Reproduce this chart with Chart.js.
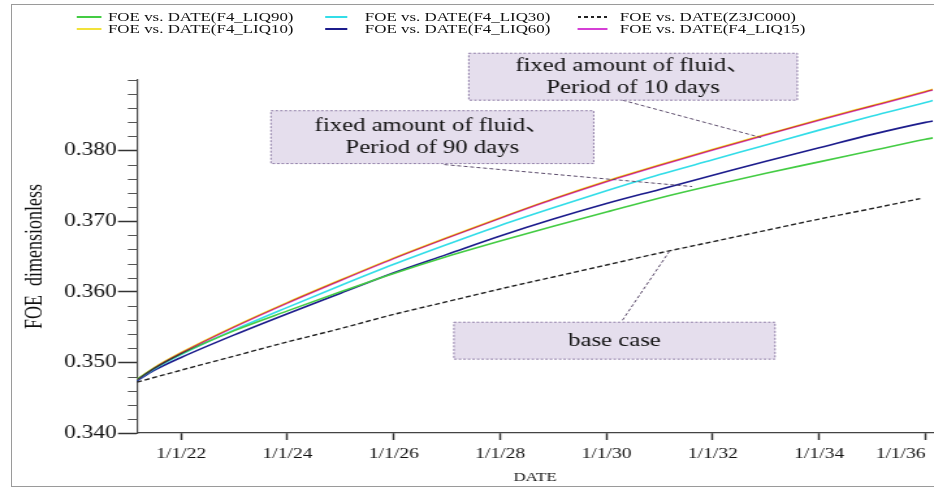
<!DOCTYPE html>
<html>
<head>
<meta charset="utf-8">
<script src="https://cdn.jsdelivr.net/npm/chart.js@4/dist/chart.umd.min.js"></script>
<style>
  body { margin: 0; background: #fff; overflow: hidden; }
  #frame { position: absolute; left: 11px; top: 4px; width: 1000px; height: 481px; border: 1.5px solid #9a9a9a; }
  #wrap { position: absolute; left: 0; top: 0; width: 718px; height: 488px; transform: scaleX(1.3008); transform-origin: 0 0; }
  #box { position: absolute; left: 0; top: 0; width: 718px; height: 488px; }
  .item { position: absolute; height: 14px; font: 13px "Liberation Serif", serif; color: #111; line-height: 14px; white-space: nowrap; }
  .sw { position: absolute; height: 2.5px; }
</style>
</head>
<body>
<div id="frame"></div>
<div id="wrap">
  <div id="legend"></div>
  <div id="box"><canvas id="chart"></canvas></div>
</div>
<script>
// años (21.17 = principios de 2021 ... 36.14 = principios de 2036)
const years = [21.17, 21.5, 22, 23, 24, 25, 26, 27, 28, 29, 30, 31, 32, 33, 34, 35, 36, 36.14];
const liq90 = [0.3476, 0.3492, 0.3512, 0.3545, 0.3573, 0.3600, 0.3626, 0.3650, 0.3672, 0.3693, 0.3713, 0.3733, 0.3751, 0.3768, 0.3784, 0.3800, 0.3816, 0.3818];
const liq10 = [0.3476, 0.3493, 0.3514, 0.3551, 0.3585, 0.3617, 0.3648, 0.3677, 0.3705, 0.3732, 0.3757, 0.3780, 0.3802, 0.3823, 0.3844, 0.3864, 0.3884, 0.3887];
const liq30 = [0.3475, 0.3491, 0.3511, 0.3546, 0.3578, 0.3609, 0.3639, 0.3667, 0.3694, 0.3719, 0.3743, 0.3766, 0.3787, 0.3808, 0.3829, 0.3849, 0.3868, 0.3871];
const liq60 = [0.3474, 0.3489, 0.3507, 0.3539, 0.3569, 0.3598, 0.3627, 0.3653, 0.3679, 0.3703, 0.3725, 0.3745, 0.3765, 0.3785, 0.3804, 0.3823, 0.3840, 0.3842];
const liq15 = [0.3475, 0.3492, 0.3513, 0.3550, 0.3584, 0.3616, 0.3647, 0.3676, 0.3704, 0.3731, 0.3756, 0.3779, 0.3801, 0.3822, 0.3843, 0.3863, 0.3883, 0.3886];
const baseYears = [21.17, 22, 23, 24, 25, 26, 27, 28, 29, 30, 31, 32, 33, 34, 35, 35.9];
const baseCase = [0.3472, 0.3489, 0.3509, 0.3529, 0.3548, 0.3568, 0.3586, 0.3604, 0.3621, 0.3638, 0.3655, 0.3671, 0.3687, 0.3703, 0.3718, 0.3732];

const xTicks = [21.17, 22, 24, 26, 28, 30, 32, 34, 36];
const xLabels = ['', '1/1/22', '1/1/24', '1/1/26', '1/1/28', '1/1/30', '1/1/32', '1/1/34', '1/1/36'];
const yTicks = [0.34, 0.35, 0.36, 0.37, 0.38];
const yLabels = ['0.340', '0.350', '0.360', '0.370', '0.380'];

// orden de la leyenda (por columnas)
const names = ['FOE vs. DATE(F4_LIQ90)', 'FOE vs. DATE(F4_LIQ10)', 'FOE vs. DATE(F4_LIQ30)',
               'FOE vs. DATE(F4_LIQ60)', 'FOE vs. DATE(Z3JC000)', 'FOE vs. DATE(F4_LIQ15)'];
const colors = ['#44cc44', '#f2e23a', '#33dde8', '#1c1c8c', '#222222', '#d53fd5'];
const series = [liq90, liq10, liq30, liq60, baseCase, liq15];
const seriesX = [years, years, years, years, baseYears, years];

const font = '"Liberation Serif", serif';

// cajas de texto con su línea guía (en unidades de los ejes)
const callouts = [
  { text: ['fixed amount of fluid、', 'Period of 10 days'], box: [27.41, 33.59, 0.39379, 0.38714], from: [30.30, 0.38714], to: [32.91, 0.38184] },
  { text: ['fixed amount of fluid、', 'Period of 90 days'], box: [23.69, 29.76, 0.38565, 0.37816], from: [26.95, 0.37802], to: [31.61, 0.37491] },
  { text: ['base case'], box: [27.13, 33.17, 0.35569, 0.35046], from: [30.30, 0.35597], to: [31.18, 0.36570] }
];

// leyenda en HTML
const legend = document.getElementById('legend');
const swLeft = [59, 250, 444], swWidth = [19, 17, 23], txtLeft = [83, 280.5, 476.5], rowY = [16.5, 28.5];
names.forEach((name, i) => {
  const col = Math.floor(i / 2), row = i % 2;
  const sw = document.createElement('div');
  sw.className = 'sw';
  sw.style.left = swLeft[col] + 'px';
  sw.style.width = swWidth[col] + 'px';
  sw.style.top = (rowY[row] - 1) + 'px';
  sw.style.background = i === 4
    ? 'repeating-linear-gradient(90deg,#222 0 3px,transparent 3px 5px)'
    : colors[i];
  legend.appendChild(sw);
  const t = document.createElement('div');
  t.className = 'item';
  t.style.left = txtLeft[col] + 'px';
  t.style.top = (rowY[row] - 7) + 'px';
  t.textContent = name;
  legend.appendChild(t);
});

const minorTicks = {
  id: 'minorTicks',
  afterDraw(chart) {
    const y = chart.scales.y, ctx = chart.ctx, left = chart.chartArea.left;
    ctx.save();
    ctx.strokeStyle = '#555';
    ctx.lineWidth = 1;
    for (let i = 0; i <= 25; i++) {
      const v = 0.34 + i * 0.002;
      if (i % 5 === 0 && i < 25) continue;
      const py = Math.round(y.getPixelForValue(v)) + 0.5;
      ctx.beginPath();
      ctx.moveTo(left - 7, py);
      ctx.lineTo(left, py);
      ctx.stroke();
    }
    ctx.restore();
  }
};

const blend = {
  id: 'blend',
  beforeDatasetDraw(chart, args) {
    if (chart.data.datasets[args.index].blend) {
      chart.ctx.save();
      chart.ctx.globalCompositeOperation = 'multiply';
    }
  },
  afterDatasetDraw(chart, args) {
    if (chart.data.datasets[args.index].blend) chart.ctx.restore();
  }
};

const notes = {
  id: 'notes',
  afterDraw(chart) {
    const xs = chart.scales.x, ys = chart.scales.y, ctx = chart.ctx;
    ctx.save();
    callouts.forEach(c => {
      const x1 = xs.getPixelForValue(c.box[0]), x2 = xs.getPixelForValue(c.box[1]);
      const y1 = ys.getPixelForValue(c.box[2]), y2 = ys.getPixelForValue(c.box[3]);
      ctx.setLineDash([3, 2]);
      ctx.strokeStyle = '#5a4a6a';
      ctx.lineWidth = 1;
      ctx.beginPath();
      ctx.moveTo(xs.getPixelForValue(c.from[0]), ys.getPixelForValue(c.from[1]));
      ctx.lineTo(xs.getPixelForValue(c.to[0]), ys.getPixelForValue(c.to[1]));
      ctx.stroke();
      ctx.fillStyle = '#e5deed';
      ctx.fillRect(x1, y1, x2 - x1, y2 - y1);
      ctx.setLineDash([2, 1.5]);
      ctx.strokeStyle = '#8e7ca6';
      ctx.strokeRect(x1, y1, x2 - x1, y2 - y1);
      ctx.setLineDash([]);
      ctx.fillStyle = '#111';
      ctx.font = '19px "Liberation Serif", "Noto Sans CJK SC", serif';
      ctx.textAlign = 'center';
      ctx.textBaseline = 'middle';
      const cx = (x1 + x2) / 2, cy = (y1 + y2) / 2;
      c.text.forEach((line, k) => {
        ctx.fillText(line, cx, cy + (k - (c.text.length - 1) / 2) * 22);
      });
    });
    ctx.restore();
  }
};

new Chart(document.getElementById('chart'), {
  type: 'line',
  data: {
    datasets: series.map((vals, i) => ({
      label: names[i],
      data: vals.map((v, k) => ({ x: seriesX[i][k], y: v })),
      borderColor: colors[i],
      borderWidth: i === 4 ? 1.4 : 1.6,
      borderDash: i === 4 ? [4, 2.2] : [],
      pointRadius: 0,
      cubicInterpolationMode: 'monotone',
      blend: i === 5,
      order: i === 5 ? 0 : 1
    }))
  },
  options: {
    responsive: true,
    maintainAspectRatio: false,
    animation: false,
    layout: { padding: { top: 80, left: 0, right: 0, bottom: 0 } },
    plugins: { legend: { display: false }, tooltip: { enabled: false } },
    scales: {
      x: {
        type: 'linear',
        min: 21.17,
        max: 36.14,
        afterBuildTicks: s => { s.ticks = xTicks.map(v => ({ value: v })); },
        afterFit: s => { s.height = 55; s.paddingLeft = 0; s.paddingRight = 0; },
        ticks: {
          autoSkip: false,
          maxRotation: 0,
          align: 'inner',
          padding: 5,
          color: '#111',
          font: { family: font, size: 15 },
          callback: (v, i) => xLabels[i]
        },
        grid: {
          drawOnChartArea: false,
          tickLength: 7,
          tickWidth: 1.5,
          tickColor: ctx => ctx.index === 0 ? 'rgba(0,0,0,0)' : '#333'
        },
        border: { color: '#444', width: 1.2 },
        title: { display: true, text: 'DATE', color: '#111', font: { family: font, size: 13 }, padding: 3 }
      },
      y: {
        min: 0.34,
        max: 0.39,
        afterBuildTicks: s => { s.ticks = yTicks.map(v => ({ value: v })); },
        afterFit: s => { s.width = 105.3; },
        ticks: {
          padding: 1,
          color: '#111',
          font: { family: font, size: 18 },
          callback: (v, i) => yLabels[i]
        },
        grid: { drawOnChartArea: false, tickLength: 14.6, tickWidth: 1.5, tickColor: '#333' },
        border: { color: '#444', width: 1.2 },
        title: { display: true, text: 'FOE  dimensionless', color: '#111', font: { family: font, size: 18 }, padding: 16 }
      }
    }
  },
  plugins: [minorTicks, blend, notes]
});
</script>
</body>
</html>
